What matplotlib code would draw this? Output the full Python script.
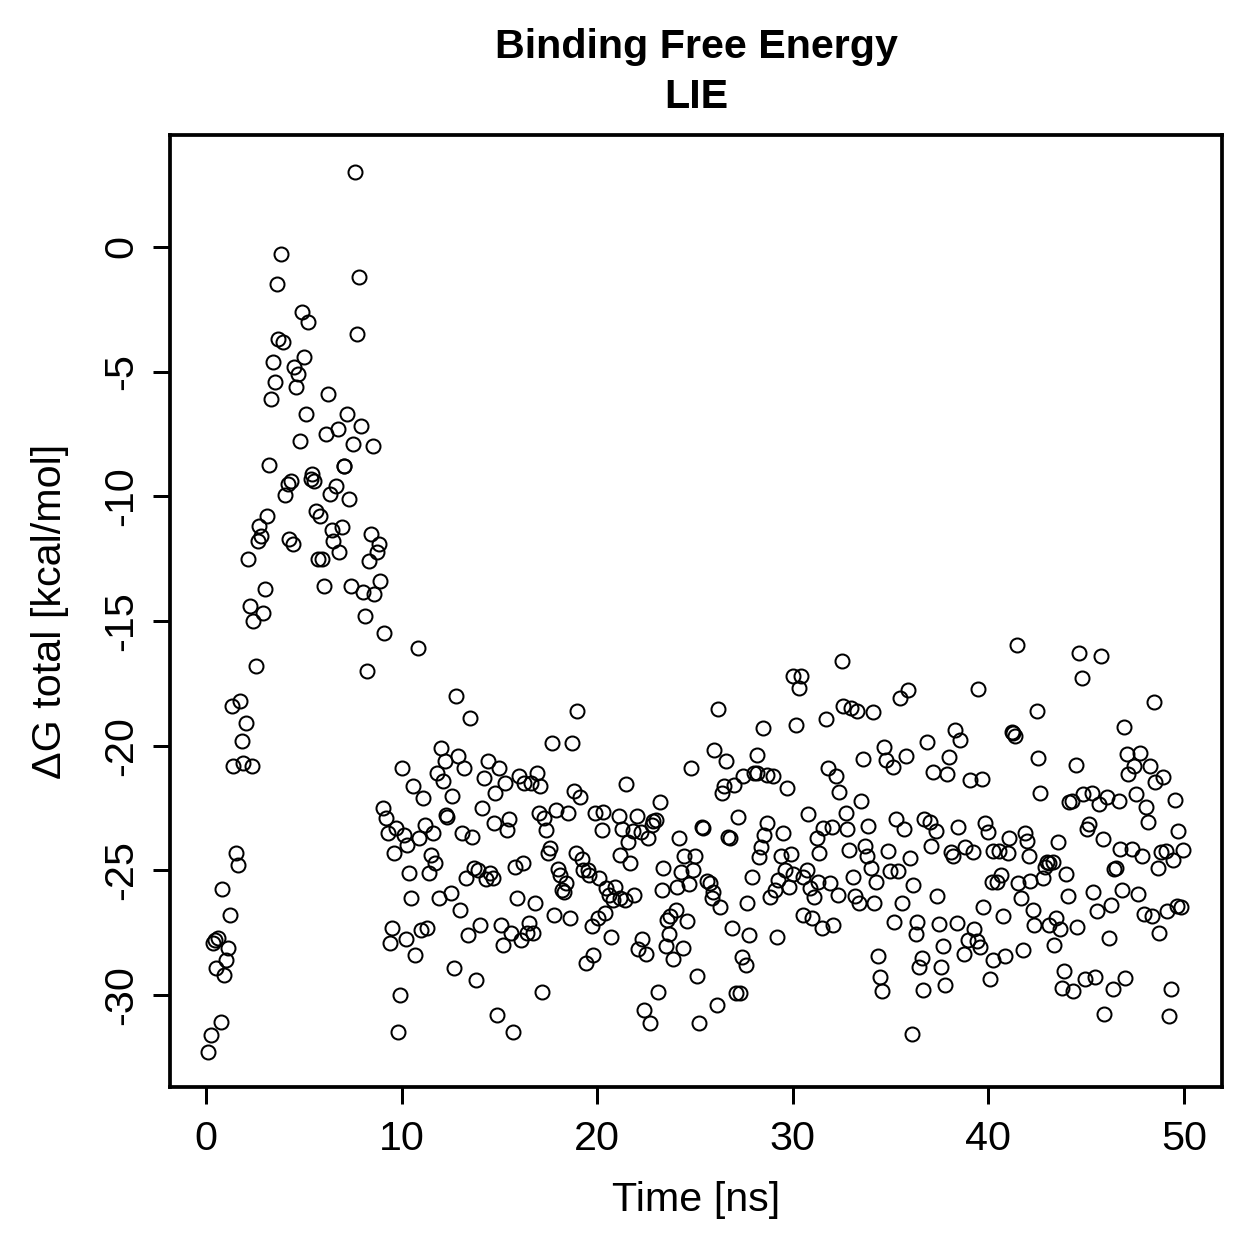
import matplotlib
matplotlib.use("Agg")
import matplotlib.pyplot as plt

plt.rcParams['font.family'] = ['Liberation Sans', 'DejaVu Sans']
plt.rcParams['axes.unicode_minus'] = False

# time [ns] and binding free energy [kcal/mol]
# first ~9 ns (equilibration phase)
t_eq = [0.12, 0.24, 0.34, 0.46, 0.51, 0.63, 0.75, 0.83, 0.92, 1.02,
        1.14, 1.23, 1.31, 1.40, 1.53, 1.65, 1.74, 1.83, 1.91, 2.04,
        2.13, 2.25, 2.34, 2.42, 2.54, 2.64, 2.72, 2.81, 2.93, 3.03,
        3.13, 3.22, 3.34, 3.43, 3.54, 3.63, 3.70, 3.83, 3.95, 4.04,
        4.18, 4.23, 4.35, 4.45, 4.51, 4.62, 4.72, 4.82, 4.92, 5.03,
        5.11, 5.23, 5.35, 5.43, 5.54, 5.61, 5.71, 5.83, 5.93, 6.02,
        6.12, 6.22, 6.32, 6.43, 6.51, 6.63, 6.73, 6.82, 6.94, 7.04,
        7.08, 7.22, 7.33, 7.43, 7.52, 7.62, 7.72, 7.82, 7.92, 8.01,
        8.13, 8.22, 8.33, 8.42, 8.52, 8.60, 8.73, 8.83, 8.91, 9.12]
dg_eq = [-32.3, -31.6, -27.9, -27.8, -28.9, -27.7, -31.1, -25.75, -29.2, -28.6,
         -28.1, -26.8, -18.4, -20.8, -24.3, -24.8, -18.2, -19.8, -20.7, -19.1,
         -12.5, -14.4, -20.8, -15.0, -16.8, -11.8, -11.2, -11.6, -14.7, -13.7,
         -10.8, -8.75, -6.1, -4.6, -5.4, -1.5, -3.7, -0.3, -3.8, -9.95,
         -9.5, -11.7, -9.4, -11.9, -4.8, -5.6, -5.1, -7.8, -2.6, -4.4,
         -6.7, -3.0, -9.3, -9.1, -9.4, -10.6, -12.5, -10.8, -12.5, -13.6,
         -7.5, -5.9, -9.9, -11.35, -11.8, -9.6, -7.3, -12.25, -11.25, -8.8,
         -8.8, -6.7, -10.1, -13.6, -7.9, 3.0, -3.5, -1.2, -7.2, -13.85,
         -14.8, -17.0, -12.6, -11.5, -8.0, -13.9, -12.25, -11.9, -13.4, -15.5]

# 9 - 19 ns
t_a = [10.82, 12.8, 13.5, 18.95, 17.7, 18.7, 12.0, 12.9, 12.2, 10.0,
       14.4, 15.0, 11.8, 13.2, 12.1, 14.2, 16.0, 16.9, 15.3, 16.25,
       16.6, 17.1, 10.6, 18.8, 11.1, 12.6, 14.8, 9.07, 9.2, 14.1,
       12.28, 12.34, 17.0, 17.3, 17.9, 18.5, 15.5, 14.7, 11.2, 9.7,
       9.3, 10.1, 11.6, 13.1, 13.6, 15.4, 17.4, 10.9, 10.3, 9.6,
       11.5, 11.7, 17.6, 17.5, 18.9, 10.4, 11.4, 13.7, 13.9, 13.3,
       14.5, 14.3, 14.65, 15.8, 16.2, 18.0, 18.1, 18.4, 18.22, 18.28,
       10.5, 11.9, 12.5, 13.0, 15.9, 16.8, 17.8, 18.6, 9.5, 9.4,
       10.2, 10.7, 11.0, 11.3, 13.4, 14.0, 15.1, 15.6, 15.2, 16.1,
       16.5, 16.4, 16.7, 12.7, 13.8, 9.9, 17.2, 14.9, 9.8, 15.7]
dg_a = [-16.1, -18.0, -18.9, -18.6, -19.9, -19.9, -20.1, -20.4, -20.6, -20.9,
        -20.6, -20.9, -21.1, -20.9, -21.4, -21.3, -21.2, -21.1, -21.5, -21.5,
        -21.5, -21.6, -21.6, -21.8, -22.1, -22.0, -21.9, -22.5, -22.9, -22.5,
        -22.8, -22.85, -22.7, -22.9, -22.6, -22.7, -22.95, -23.1, -23.2, -23.3,
        -23.5, -23.6, -23.5, -23.5, -23.65, -23.4, -23.4, -23.7, -24.0, -24.3,
        -24.4, -24.7, -24.1, -24.3, -24.3, -25.1, -25.1, -24.9, -25.0, -25.3,
        -25.1, -25.35, -25.3, -24.85, -24.7, -24.95, -25.2, -25.5, -25.8, -25.85,
        -26.1, -26.1, -25.9, -26.6, -26.1, -26.3, -26.8, -26.9, -27.3, -27.9,
        -27.75, -28.4, -27.4, -27.3, -27.6, -27.2, -27.2, -27.5, -28.0, -27.8,
        -27.1, -27.5, -27.5, -28.9, -29.4, -30.0, -29.9, -30.8, -31.5, -31.5]

# 19 - 29 ns
t_b = [26.19, 28.49, 25.97, 26.58, 28.19, 24.78, 21.49, 27.47, 28.03, 28.15,
       28.7, 26.99, 26.48, 26.38, 19.12, 23.19, 19.89, 20.31, 21.11, 22.02,
       27.2, 22.87, 23.0, 22.79, 20.23, 21.28, 21.81, 22.24, 22.58, 21.59,
       25.34, 25.43, 28.67, 24.2, 26.7, 26.79, 28.54, 28.37, 28.29, 19.2,
       21.17, 21.68, 24.45, 25.0, 23.38, 24.28, 24.88, 19.29, 19.55, 19.6,
       20.11, 20.45, 20.91, 20.62, 20.82, 21.17, 21.42, 21.9, 23.3, 24.06,
       24.69, 25.6, 25.77, 25.94, 25.85, 26.28, 27.9, 27.67, 28.83, 19.72,
       20.03, 20.4, 20.69, 23.55, 23.72, 24.03, 24.61, 23.69, 23.5, 24.37,
       23.89, 26.88, 27.78, 27.39, 27.61, 22.31, 22.1, 22.5, 19.8, 19.41,
       25.09, 23.09, 27.1, 27.3, 26.11, 22.39, 22.7, 25.19]
dg_b = [-18.53, -19.28, -20.18, -20.62, -20.39, -20.91, -21.54, -21.2, -21.11, -21.09,
        -21.18, -21.58, -21.62, -21.91, -22.05, -22.25, -22.72, -22.65, -22.81, -22.82,
        -22.85, -23.02, -22.98, -23.19, -23.39, -23.35, -23.41, -23.45, -23.72, -23.85,
        -23.28, -23.32, -23.09, -23.72, -23.65, -23.72, -23.59, -24.05, -24.46, -24.55,
        -24.39, -24.72, -24.43, -24.43, -24.92, -25.08, -24.99, -24.99, -24.99, -25.19,
        -25.32, -25.72, -25.66, -25.99, -26.19, -26.13, -26.19, -26.0, -25.79, -25.68,
        -25.56, -25.42, -25.52, -25.86, -26.1, -26.46, -25.28, -26.33, -26.06, -27.22,
        -26.9, -26.7, -27.69, -27.0, -26.82, -26.6, -27.04, -27.57, -28.04, -28.1,
        -28.57, -27.3, -27.6, -28.47, -28.8, -27.76, -28.16, -28.36, -28.39, -28.71,
        -29.24, -29.9, -29.94, -29.94, -30.42, -30.61, -31.13, -31.11]

# 29 - 39 ns
t_c = [32.5, 30.03, 30.4, 30.3, 35.48, 35.87, 32.58, 32.96, 33.3, 34.08,
       31.7, 30.16, 38.29, 38.55, 36.88, 34.68, 34.76, 35.11, 35.77, 33.57,
       37.99, 37.18, 37.87, 29.0, 31.78, 32.21, 29.69, 32.36, 33.49, 30.79,
       32.7, 29.48, 31.22, 31.56, 31.99, 32.79, 33.86, 35.28, 35.69, 36.72,
       37.01, 37.3, 38.46, 29.38, 29.89, 31.36, 32.89, 33.69, 33.78, 34.0,
       34.88, 35.99, 37.07, 38.07, 38.17, 29.6, 29.99, 30.54, 30.71, 29.26,
       29.09, 29.82, 30.88, 31.08, 31.3, 31.9, 32.3, 33.09, 34.25, 33.18,
       33.38, 34.17, 34.97, 35.39, 36.16, 35.57, 37.36, 30.54, 31.0, 31.48,
       32.07, 29.18, 35.17, 36.37, 36.28, 37.47, 38.38, 37.66, 34.37, 36.59,
       36.47, 37.56, 34.46, 34.58, 36.67, 37.78, 36.08]
dg_c = [-16.59, -17.21, -17.21, -17.68, -18.1, -17.77, -18.41, -18.48, -18.6, -18.66,
        -18.95, -19.17, -19.37, -19.78, -19.84, -20.07, -20.58, -20.87, -20.42, -20.55,
        -20.44, -21.05, -21.15, -21.2, -20.91, -21.22, -21.71, -21.87, -22.23, -22.74,
        -22.72, -23.49, -23.71, -23.32, -23.25, -23.35, -23.21, -22.96, -23.33, -22.94,
        -23.05, -23.41, -23.28, -24.43, -24.36, -24.3, -24.19, -24.03, -24.43, -24.92,
        -24.22, -24.52, -24.01, -24.25, -24.43, -24.99, -25.16, -25.28, -24.99, -25.39,
        -25.79, -25.68, -25.72, -26.06, -25.48, -25.52, -25.99, -25.26, -25.48, -26.03,
        -26.33, -26.33, -25.03, -25.03, -25.59, -26.3, -26.02, -26.81, -26.9, -27.3,
        -27.2, -27.67, -27.06, -27.06, -27.56, -27.16, -27.1, -28.04, -28.44, -28.53,
        -28.87, -28.89, -29.29, -29.83, -29.78, -29.6, -31.57]

# 39 - 50 ns
t_d = [41.48, 44.65, 45.76, 44.77, 39.47, 48.45, 42.47, 46.93, 41.19, 41.27,
       41.36, 42.55, 44.46, 47.07, 47.75, 47.46, 47.15, 48.26, 48.52, 48.94,
       39.06, 39.66, 49.54, 47.55, 48.06, 48.14, 42.64, 44.14, 44.26, 44.85,
       45.28, 45.67, 46.05, 46.68, 39.83, 39.96, 41.07, 41.87, 41.99, 43.57,
       45.02, 45.16, 45.84, 49.71, 38.8, 39.2, 40.25, 40.54, 40.99, 42.08,
       42.98, 43.11, 43.32, 42.89, 42.78, 43.95, 46.73, 47.36, 47.84, 48.65,
       48.81, 49.08, 49.42, 49.96, 46.44, 46.51, 40.17, 40.42, 40.64, 41.53,
       42.13, 41.67, 42.26, 44.05, 45.36, 46.85, 47.66, 46.27, 45.57, 47.95,
       48.35, 49.15, 49.63, 49.85, 39.74, 40.76, 39.28, 38.97, 39.4, 39.57,
       38.75, 40.25, 40.85, 41.75, 42.35, 43.11, 43.46, 43.66, 44.54, 43.37,
       46.15, 48.74, 40.08, 43.88, 43.75, 44.34, 44.94, 45.45, 46.35, 46.99,
       49.35, 45.92, 49.23]
dg_d = [-15.98, -16.3, -16.41, -17.28, -17.73, -18.26, -18.6, -19.24, -19.47, -19.51,
        -19.6, -20.48, -20.77, -20.32, -20.28, -20.82, -21.14, -20.82, -21.45, -21.27,
        -21.38, -21.35, -22.18, -21.94, -22.45, -23.05, -21.89, -22.25, -22.21, -21.94,
        -21.91, -22.35, -22.05, -22.22, -23.09, -23.45, -23.72, -23.49, -23.81, -23.85,
        -23.35, -23.14, -23.76, -23.43, -24.07, -24.27, -24.23, -24.23, -24.3, -24.43,
        -24.66, -24.72, -24.66, -24.88, -25.3, -25.15, -24.16, -24.16, -24.43, -24.92,
        -24.26, -24.22, -24.59, -24.19, -24.96, -24.92, -25.46, -25.46, -25.19, -25.52,
        -25.43, -26.13, -26.59, -26.03, -25.88, -25.79, -25.95, -26.39, -26.62, -26.75,
        -26.82, -26.63, -26.42, -26.49, -26.46, -26.83, -27.37, -27.8, -27.83, -28.07,
        -28.37, -28.6, -28.44, -28.2, -27.2, -27.2, -26.93, -27.37, -27.26, -28.0,
        -27.73, -27.5, -29.36, -29.04, -29.71, -29.84, -29.37, -29.29, -29.74, -29.33,
        -29.75, -30.77, -30.85]

time_ns = t_eq + t_a + t_b + t_c + t_d
dg_total = dg_eq + dg_a + dg_b + dg_c + dg_d

xticks = [0, 10, 20, 30, 40, 50]
yticks = [0, -5, -10, -15, -20, -25, -30]

W = H = 1259
fig = plt.figure(figsize=(W / 180, H / 180), dpi=180)
ax = fig.add_axes([170 / W, 1 - 1087 / H, (1222 - 170) / W, (1087 - 135) / H])

ax.plot(time_ns, dg_total, linestyle='none', marker='o', markersize=5.6,
        markerfacecolor='none', markeredgecolor='black', markeredgewidth=0.8)

ax.set_xlim(-1.84, 51.94)
ax.set_ylim(-33.69, 4.49)
ax.set_xticks(xticks)
ax.set_yticks(yticks)
ax.set_xticklabels([str(v) for v in xticks])
ax.set_yticklabels([str(v) for v in yticks], rotation=90, va='center', ha='right')

for sp in ax.spines.values():
    sp.set_linewidth(1.5)
ax.tick_params(direction='out', length=6.8, width=1.2, labelsize=16.5)
ax.tick_params(axis='x', pad=6.5)
ax.tick_params(axis='y', pad=5)

fig.text(696 / W, 1 - 72 / H, "Binding Free Energy\nLIE", ha='center', va='center',
         fontsize=16.5, fontweight='bold', linespacing=1.4)
fig.text(696 / W, 1 - 1200 / H, "Time [ns]", ha='center', va='center', fontsize=16.5)
fig.text(50 / W, 1 - 611 / H, "ΔG total [kcal/mol]", ha='center', va='center',
         rotation=90, fontsize=16.5)

fig.savefig("out.png", dpi=180, facecolor='white')
